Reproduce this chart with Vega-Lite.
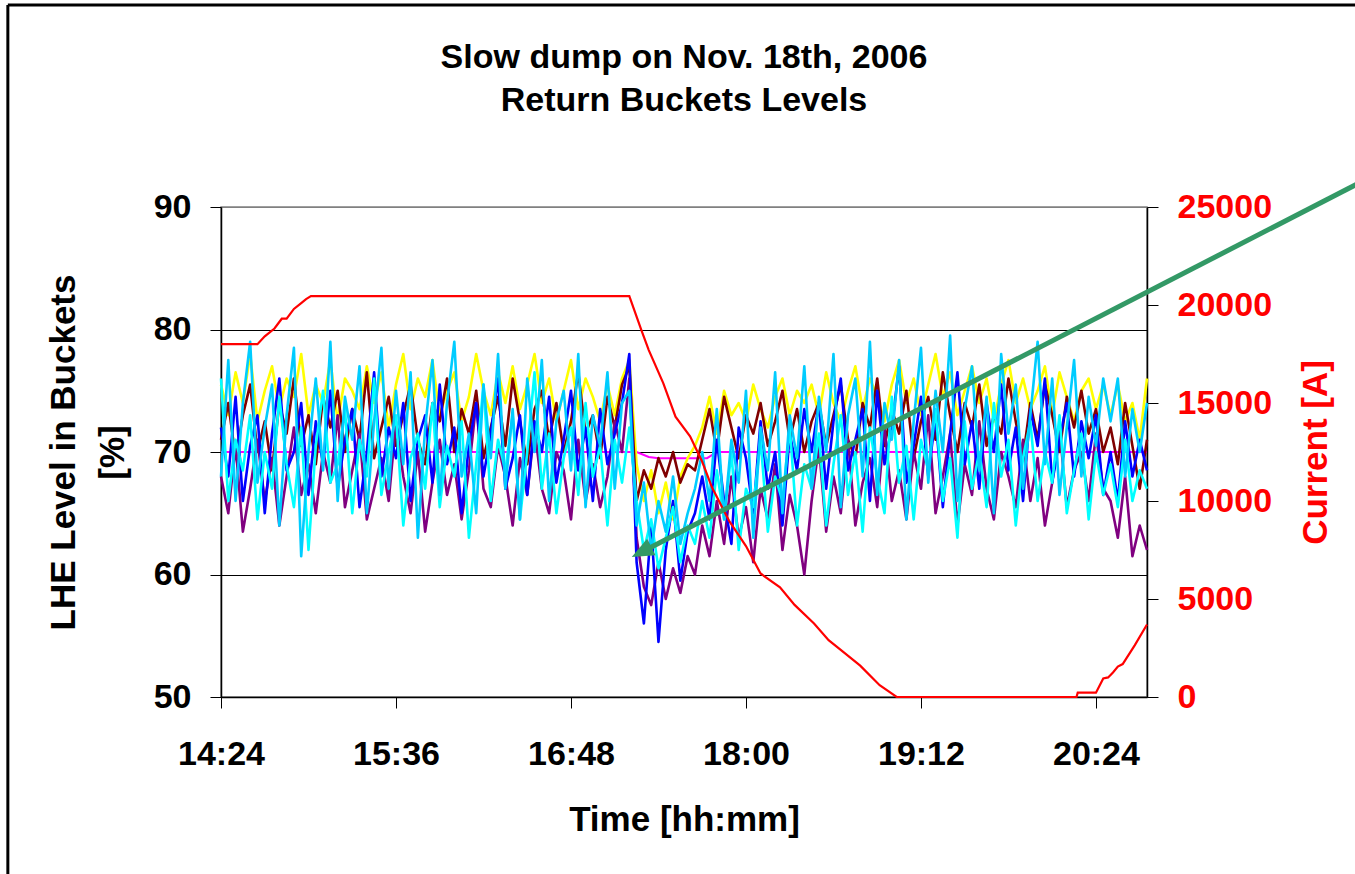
{
"$schema": "https://vega.github.io/schema/vega-lite/v6.json",
"width": 926,
"height": 490,
"autosize": "none",
"padding": {"left": 221, "top": 207, "right": 208, "bottom": 177},
"background": "white",
"config": {"font": "Liberation Sans", "view": {"stroke": "#808080", "strokeWidth": 1.5}},
"title": {"text": ["Slow dump on Nov. 18th, 2006", "Return Buckets Levels"], "font": "Liberation Sans", "fontSize": 34, "fontWeight": "bold", "color": "black", "lineHeight": 43, "anchor": "middle", "frame": "group", "dy": 119},
"datasets": {
"lev": [
{"t":864,"Y":75.5,"M":71,"P":68,"B":72,"C":76,"S":68},
{"t":867,"Y":73,"M":74,"P":65,"B":68,"C":66,"S":77.5},
{"t":870,"Y":76.5,"M":69.5,"P":70.5,"B":74.5,"C":71,"S":66},
{"t":873,"Y":74,"M":73,"P":63.5,"B":66,"C":68.5,"S":74},
{"t":876,"Y":78,"M":75.5,"P":67,"B":70.5,"C":73,"S":79},
{"t":879,"Y":72.5,"M":70,"P":71,"B":73,"C":64.5,"S":67.5},
{"t":882,"Y":75,"M":72.5,"P":66,"B":65,"C":70,"S":72},
{"t":885,"Y":77,"M":68.5,"P":69.5,"B":71.5,"C":67,"S":75.5},
{"t":888,"Y":73.5,"M":74,"P":64,"B":76,"C":74.5,"S":64},
{"t":891,"Y":76,"M":71.5,"P":68,"B":68.5,"C":69,"S":73},
{"t":894,"Y":74.5,"M":76,"P":72,"B":70,"C":65.5,"S":78.5},
{"t":897,"Y":78,"M":70.5,"P":66.5,"B":74,"C":72,"S":61.5},
{"t":900,"Y":73,"M":73,"P":69,"B":66.5,"C":62,"S":70},
{"t":903,"Y":75.5,"M":69,"P":65,"B":72.5,"C":70.5,"S":76},
{"t":906,"Y":74,"M":74.5,"P":70,"B":69,"C":75,"S":68.5},
{"t":909,"Y":77.5,"M":72,"P":67.5,"B":75,"C":67.5,"S":79},
{"t":912,"Y":72.5,"M":75,"P":73,"B":67,"C":69,"S":66},
{"t":915,"Y":76,"M":70,"P":65.5,"B":71,"C":73.5,"S":74.5},
{"t":918,"Y":75,"M":73.5,"P":68.5,"B":73.5,"C":65,"S":71},
{"t":921,"Y":73.5,"M":71,"P":71.5,"B":65.5,"C":71,"S":77},
{"t":924,"Y":77,"M":76.5,"P":64.5,"B":70,"C":68,"S":65},
{"t":927,"Y":74,"M":69.5,"P":67,"B":76.5,"C":76,"S":72.5},
{"t":930,"Y":76.5,"M":72,"P":69.5,"B":68,"C":66.5,"S":78.5},
{"t":933,"Y":72,"M":74.5,"P":66,"B":72,"C":70,"S":67},
{"t":936,"Y":75.5,"M":70.5,"P":72.5,"B":69.5,"C":73,"S":75},
{"t":939,"Y":78,"M":73,"P":68,"B":74,"C":64,"S":69},
{"t":942,"Y":73.5,"M":75.5,"P":65,"B":66,"C":69.5,"S":76.5},
{"t":945,"Y":76,"M":71,"P":70,"B":71,"C":71.5,"S":63},
{"t":948,"Y":74.5,"M":69,"P":63.5,"B":73,"C":67,"S":72},
{"t":951,"Y":77.5,"M":74,"P":67.5,"B":67.5,"C":74,"S":77.5},
{"t":954,"Y":73,"M":72.5,"P":71,"B":75.5,"C":65.5,"S":66.5},
{"t":957,"Y":75,"M":76,"P":66.5,"B":69,"C":70.5,"S":74},
{"t":960,"Y":76.5,"M":70,"P":69,"B":72,"C":68,"S":79},
{"t":963,"Y":72.5,"M":73.5,"P":64.5,"B":65,"C":72.5,"S":68},
{"t":966,"Y":74.5,"M":71.5,"P":68.5,"B":70.5,"C":63,"S":71.5},
{"t":969,"Y":78,"M":75,"P":74,"B":74,"C":69,"S":65},
{"t":972,"Y":75,"M":69.5,"P":67,"B":68,"C":75.5,"S":75.5},
{"t":975,"Y":73,"M":72,"P":65.5,"B":71.5,"C":66,"S":69.5},
{"t":978,"Y":76.5,"M":74.5,"P":70.5,"B":76,"C":71,"S":78},
{"t":981,"Y":74,"M":70.5,"P":68,"B":67,"C":68.5,"S":67},
{"t":984,"Y":77,"M":76,"P":64,"B":69.5,"C":73,"S":73.5},
{"t":987,"Y":73.5,"M":72.5,"P":69.5,"B":73,"C":64.5,"S":64.5},
{"t":990,"Y":75.5,"M":69,"P":66.5,"B":66.5,"C":70,"S":76},
{"t":993,"Y":78,"M":73.5,"P":72,"B":72.5,"C":76.5,"S":70},
{"t":996,"Y":74,"M":75,"P":67,"B":70,"C":67,"S":77.5},
{"t":999,"Y":76,"M":71,"P":65,"B":74.5,"C":71.5,"S":66},
{"t":1002,"Y":72.5,"M":74,"P":70,"B":67.5,"C":65,"S":72.5},
{"t":1005,"Y":75,"M":70,"P":68.5,"B":71,"C":69.5,"S":75},
{"t":1008,"Y":77.5,"M":72.5,"P":64.5,"B":75,"C":72,"S":68.5},
{"t":1011,"Y":73.5,"M":76.5,"P":71,"B":68.5,"C":66.5,"S":78},
{"t":1014,"Y":76,"M":71.5,"P":66,"B":72,"C":74,"S":65.5},
{"t":1017,"Y":74.5,"M":73,"P":69,"B":66,"C":68,"S":73},
{"t":1020,"Y":72.5,"M":69.5,"P":65.5,"B":73.5,"C":70.5,"S":70.5},
{"t":1023,"Y":75.5,"M":74.5,"P":68,"B":69,"C":64,"S":76.5},
{"t":1026,"Y":73,"M":72,"P":72.5,"B":71.5,"C":71,"S":67},
{"t":1029,"Y":76,"M":75.5,"P":70,"B":74,"C":67.5,"S":74},
{"t":1032,"Y":77.5,"M":77,"P":76,"B":78,"C":72,"S":75},
{"t":1035,"Y":69,"M":66,"P":63,"B":61,"C":66,"S":64},
{"t":1038,"Y":66,"M":68.5,"P":59,"B":56,"C":62,"S":67.5},
{"t":1041,"Y":68.5,"M":67,"P":57.5,"B":64,"C":64.5,"S":62},
{"t":1044,"Y":65,"M":69.5,"P":61,"B":54.5,"C":60.5,"S":66},
{"t":1047,"Y":67.5,"M":68,"P":58,"B":62,"C":63,"S":63.5},
{"t":1050,"Y":64.5,"M":70,"P":60.5,"B":66,"C":65.5,"S":68},
{"t":1053,"Y":68,"M":67.5,"P":58.5,"B":59.5,"C":61,"S":62.5},
{"t":1056,"Y":69.5,"M":69,"P":61.5,"B":63.5,"C":64,"S":65},
{"t":1059,"Y":70.5,"M":68.5,"P":60,"B":65,"C":62.5,"S":67},
{"t":1062,"Y":72,"M":71,"P":64,"B":68,"C":66,"S":70},
{"t":1065,"Y":74.5,"M":73.5,"P":61.5,"B":64.5,"C":63,"S":66},
{"t":1068,"Y":71.5,"M":70,"P":66,"B":71,"C":68.5,"S":73.5},
{"t":1071,"Y":75,"M":74.5,"P":62.5,"B":66,"C":64.5,"S":64.5},
{"t":1074,"Y":73,"M":72,"P":68,"B":62.5,"C":70,"S":71},
{"t":1077,"Y":74,"M":69.5,"P":63,"B":72,"C":62,"S":67.5},
{"t":1080,"Y":72.5,"M":73,"P":65.5,"B":69.5,"C":67,"S":75},
{"t":1083,"Y":75.5,"M":71.5,"P":61,"B":65,"C":65.5,"S":63},
{"t":1086,"Y":73.5,"M":74,"P":67,"B":72.5,"C":71,"S":72},
{"t":1089,"Y":72,"M":70.5,"P":64.5,"B":67,"C":63.5,"S":68.5},
{"t":1092,"Y":74.5,"M":72.5,"P":69,"B":70,"C":68,"S":76.5},
{"t":1095,"Y":76,"M":75,"P":62,"B":64,"C":66,"S":65},
{"t":1098,"Y":73,"M":71,"P":66.5,"B":71.5,"C":72,"S":73},
{"t":1101,"Y":75,"M":73.5,"P":64,"B":68.5,"C":64,"S":69.5},
{"t":1104,"Y":74,"M":70,"P":60,"B":73.5,"C":69,"S":77},
{"t":1107,"Y":75.5,"M":72.5,"P":66,"B":70,"C":67,"S":67},
{"t":1110,"Y":73,"M":74,"P":70.5,"B":74,"C":71.5,"S":74.5},
{"t":1113,"Y":76.5,"M":70.5,"P":63.5,"B":67,"C":64,"S":70},
{"t":1116,"Y":74,"M":73,"P":68,"B":72.5,"C":69,"S":78},
{"t":1119,"Y":72.5,"M":75.5,"P":65,"B":76,"C":73,"S":65.5},
{"t":1122,"Y":75,"M":71,"P":71,"B":68.5,"C":66.5,"S":73},
{"t":1125,"Y":77,"M":69.5,"P":64,"B":71,"C":70,"S":76},
{"t":1128,"Y":73.5,"M":74,"P":67.5,"B":73.5,"C":63.5,"S":68},
{"t":1131,"Y":76,"M":72,"P":69.5,"B":66,"C":72,"S":79},
{"t":1134,"Y":74.5,"M":76,"P":65.5,"B":75,"C":68,"S":66.5},
{"t":1137,"Y":72.5,"M":70.5,"P":72,"B":69,"C":65,"S":74},
{"t":1140,"Y":75.5,"M":73.5,"P":66,"B":72,"C":74.5,"S":71},
{"t":1143,"Y":77.5,"M":71.5,"P":68.5,"B":77,"C":67.5,"S":77.5},
{"t":1146,"Y":74,"M":75,"P":64.5,"B":67.5,"C":70.5,"S":64.5},
{"t":1149,"Y":76,"M":69.5,"P":70,"B":70.5,"C":64.5,"S":72.5},
{"t":1152,"Y":73,"M":72.5,"P":67,"B":74.5,"C":71,"S":78.5},
{"t":1155,"Y":75.5,"M":74.5,"P":73,"B":68,"C":68.5,"S":67.5},
{"t":1158,"Y":78,"M":71,"P":65,"B":73,"C":73.5,"S":75},
{"t":1161,"Y":74.5,"M":76.5,"P":68,"B":65.5,"C":66,"S":70},
{"t":1164,"Y":76.5,"M":73,"P":71.5,"B":71.5,"C":69.5,"S":79.5},
{"t":1167,"Y":73,"M":70,"P":64,"B":76.5,"C":63,"S":66},
{"t":1170,"Y":75,"M":74,"P":69,"B":69,"C":72.5,"S":73.5},
{"t":1173,"Y":77,"M":72,"P":66.5,"B":72.5,"C":67,"S":77},
{"t":1176,"Y":74,"M":75.5,"P":72.5,"B":67,"C":70,"S":68.5},
{"t":1179,"Y":76,"M":70.5,"P":67,"B":74,"C":65.5,"S":74.5},
{"t":1182,"Y":72.5,"M":73,"P":64.5,"B":70,"C":74,"S":65},
{"t":1185,"Y":75.5,"M":71.5,"P":70,"B":75.5,"C":68,"S":78},
{"t":1188,"Y":77.5,"M":76,"P":68,"B":68.5,"C":71,"S":71.5},
{"t":1191,"Y":74,"M":72.5,"P":65.5,"B":72,"C":64,"S":75.5},
{"t":1194,"Y":76,"M":69.5,"P":71,"B":66,"C":69.5,"S":67},
{"t":1197,"Y":73.5,"M":74,"P":66,"B":73.5,"C":72.5,"S":73},
{"t":1200,"Y":75,"M":71,"P":69.5,"B":70.5,"C":66,"S":79},
{"t":1203,"Y":77,"M":75.5,"P":64,"B":76,"C":70,"S":69},
{"t":1206,"Y":73,"M":73,"P":67.5,"B":67.5,"C":67.5,"S":76},
{"t":1209,"Y":76.5,"M":70,"P":72,"B":71,"C":73,"S":66.5},
{"t":1212,"Y":74.5,"M":74.5,"P":65.5,"B":74,"C":65,"S":72},
{"t":1215,"Y":72.5,"M":72,"P":68.5,"B":68,"C":68.5,"S":77.5},
{"t":1218,"Y":75,"M":75,"P":70,"B":72.5,"C":71.5,"S":68},
{"t":1221,"Y":76,"M":71.5,"P":66,"B":69.5,"C":64.5,"S":74.5},
{"t":1224,"Y":73.5,"M":73.5,"P":71.5,"B":73,"C":70,"S":70.5},
{"t":1227,"Y":75.5,"M":70,"P":67,"B":66.5,"C":66.5,"S":76},
{"t":1230,"Y":73,"M":72,"P":66,"B":70,"C":69,"S":72.5},
{"t":1233,"Y":75.5,"M":69,"P":63,"B":66,"C":65.5,"S":76},
{"t":1236,"Y":72.5,"M":74,"P":68,"B":72.5,"C":71,"S":68},
{"t":1239,"Y":74,"M":70.5,"P":61.5,"B":68,"C":66,"S":73.5},
{"t":1242,"Y":71,"M":67,"P":64,"B":71,"C":68.5,"S":70},
{"t":1245,"Y":76,"M":71,"P":62,"B":68.5,"C":67,"S":74}
],
"mag": [
{"t":864,"v":70},{"t":1035,"v":70},{"t":1040,"v":69.6},{"t":1044,"v":69.5},{"t":1064,"v":69.5},{"t":1068,"v":70},{"t":1245,"v":70}
],
"cur": [
{"t":864,"a":18000},{"t":879,"a":18000},{"t":882,"a":18400},{"t":886,"a":18800},{"t":889,"a":19300},{"t":891,"a":19300},{"t":894,"a":19800},{"t":897,"a":20100},{"t":899,"a":20300},{"t":901,"a":20450},
{"t":1032,"a":20450},{"t":1037,"a":18700},{"t":1040,"a":17700},{"t":1046,"a":16000},{"t":1051,"a":14300},{"t":1057,"a":13300},{"t":1062,"a":12000},{"t":1066,"a":10700},{"t":1073,"a":9000},{"t":1080,"a":7700},{"t":1086,"a":6300},{"t":1094,"a":5600},{"t":1100,"a":4700},{"t":1108,"a":3750},{"t":1114,"a":2900},{"t":1120,"a":2300},{"t":1127,"a":1600},{"t":1135,"a":600},{"t":1142,"a":0},
{"t":1216,"a":0},{"t":1216.5,"a":220},{"t":1224,"a":220},{"t":1227,"a":950},{"t":1229,"a":1000},{"t":1231,"a":1250},{"t":1233,"a":1550},{"t":1235,"a":1680},{"t":1240,"a":2650},{"t":1245,"a":3700}
],
"frame": [
{"t":776.3,"v":106.5,"t2":1360,"v2":106.5},
{"t":776.3,"v":106.5,"t2":776.3,"v2":30}
],
"arrow": [
{"t":1341,"v":92.85,"t2":1036.7,"v2":61.8}
],
"head": [
{"t":1033,"v":61.43}
]
},
"encoding": {
"x": {"field": "t", "type": "quantitative",
 "scale": {"domain": [864, 1245], "nice": false, "zero": false},
 "axis": {"values": [864, 936, 1008, 1080, 1152, 1224],
  "labelExpr": "floor(datum.value/60) + ':' + (datum.value % 60 < 10 ? '0' : '') + (datum.value % 60)",
  "title": "Time [hh:mm]", "titleFont": "Liberation Sans", "titleFontSize": 35, "titleFontWeight": "bold", "titleColor": "black",
  "titleX": 463, "titleY": 133, "titleAlign": "center", "titleBaseline": "alphabetic",
  "labelFont": "Liberation Sans", "labelFontSize": 34, "labelFontWeight": "bold", "labelColor": "black", "labelPadding": 29, "labelFlush": false, "labelOverlap": false,
  "tickSize": 11, "tickColor": "black", "tickWidth": 1, "domainColor": "black", "domainWidth": 1.5, "grid": false}}
},
"layer": [
{
 "encoding": {
  "y": {"field": "v", "type": "quantitative",
   "scale": {"domain": [50, 90], "nice": false, "zero": false},
   "axis": {"orient": "left", "values": [50, 60, 70, 80, 90],
    "title": ["LHE Level in Buckets", "[%]"], "titleFont": "Liberation Sans", "titleFontSize": 35, "titleFontWeight": "bold", "titleColor": "black",
    "titleAngle": -90, "titleAlign": "center", "titleBaseline": "middle", "titleX": -158, "titleY": 245, "titleLineHeight": 49,
    "labelFont": "Liberation Sans", "labelFontSize": 34, "labelFontWeight": "bold", "labelColor": "black", "labelPadding": 19,
    "tickSize": 11, "tickColor": "black", "tickWidth": 1, "domainColor": "black", "domainWidth": 1.5,
    "grid": true, "gridColor": {"condition": {"test": "datum.value == 90", "value": "#808080"}, "value": "black"}, "gridWidth": 1}}
 },
 "layer": [
  {"data": {"name": "mag"}, "mark": {"type": "line", "color": "#FF00FF", "strokeWidth": 2}},
  {"data": {"name": "lev"},
   "transform": [{"fold": ["Y", "M", "P", "B", "C", "S"], "as": ["key", "v"]}],
   "mark": {"type": "line", "strokeWidth": 2.6, "strokeJoin": "round"},
   "encoding": {"color": {"field": "key", "type": "nominal",
    "scale": {"domain": ["Y", "M", "P", "B", "C", "S"], "range": ["#FFFF00", "#800000", "#800080", "#0000FF", "#00FFFF", "#00CCFF"]},
    "legend": null}}}
 ]
},
{
 "data": {"name": "cur"},
 "mark": {"type": "line", "color": "#FF0000", "strokeWidth": 2.2},
 "encoding": {
  "y": {"field": "a", "type": "quantitative",
   "scale": {"domain": [0, 25000], "nice": false, "zero": false},
   "axis": {"orient": "right", "values": [0, 5000, 10000, 15000, 20000, 25000], "format": "d",
    "title": "Current [A]", "titleFont": "Liberation Sans", "titleFontSize": 35, "titleFontWeight": "bold", "titleColor": "#FF0000",
    "titleAngle": -90, "titleAlign": "center", "titleBaseline": "middle", "titleX": 168, "titleY": 245,
    "labelFont": "Liberation Sans", "labelFontSize": 34, "labelFontWeight": "bold", "labelColor": "#FF0000", "labelPadding": 19,
    "tickSize": 11, "tickColor": "black", "tickWidth": 1, "domainColor": "black", "domainWidth": 1.5, "grid": false}}
 }
},
{
 "encoding": {
  "y": {"field": "v", "type": "quantitative", "scale": {"domain": [50, 90], "nice": false, "zero": false}, "axis": null}
 },
 "layer": [
  {"data": {"name": "frame"}, "mark": {"type": "rule", "color": "black", "strokeWidth": 3, "clip": false},
   "encoding": {"x2": {"field": "t2"}, "y2": {"field": "v2"}}},
  {"data": {"name": "arrow"}, "mark": {"type": "rule", "color": "#339966", "strokeWidth": 5, "clip": false},
   "encoding": {"x2": {"field": "t2"}, "y2": {"field": "v2"}}},
  {"data": {"name": "head"}, "mark": {"type": "point", "shape": "M0,0L0.42,1L-0.42,1Z", "filled": true, "color": "#339966", "opacity": 1, "size": 1936, "angle": 243, "clip": false}}
 ]
}
],
"resolve": {"scale": {"y": "independent"}}
}
